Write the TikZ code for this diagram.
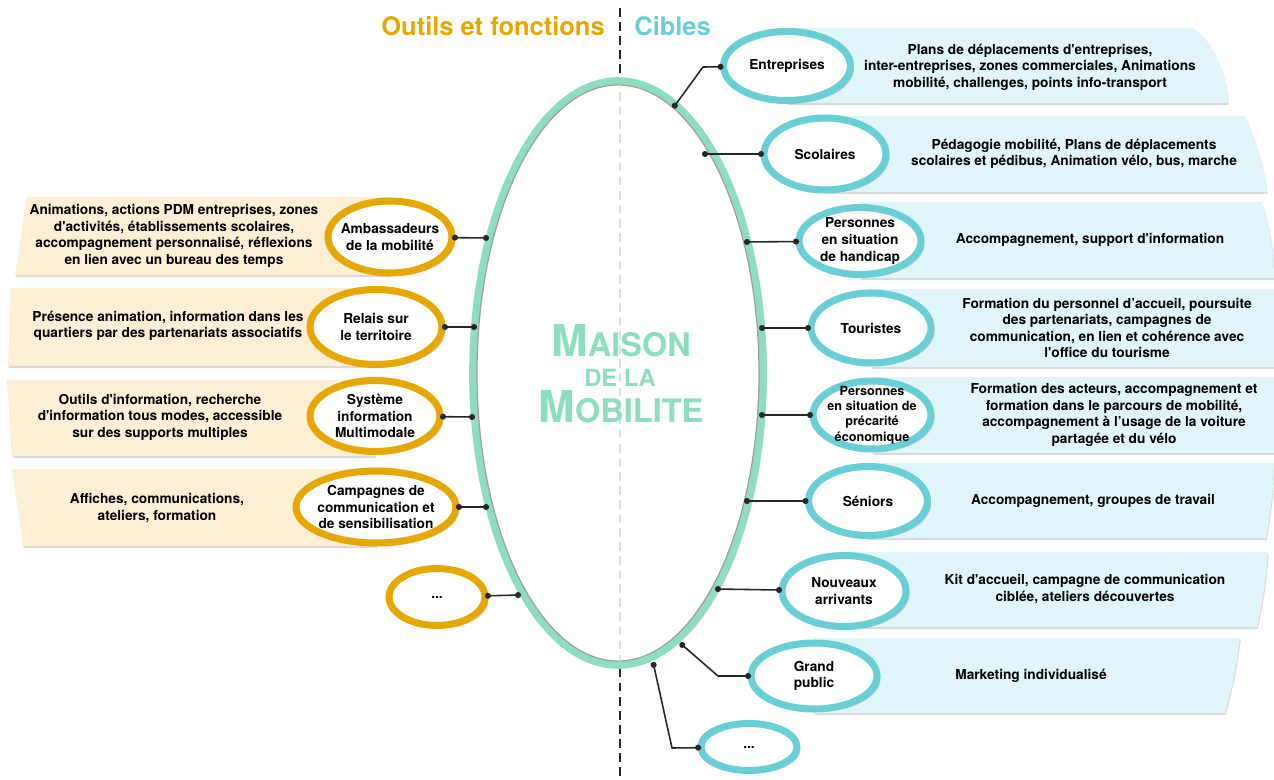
\documentclass[tikz,border=0pt]{standalone}
\usepackage{fontspec}
\setmainfont{TeX Gyre Heros}[Ligatures=TeXOff]
\usetikzlibrary{arrows.meta,shapes.geometric,shadows}
\definecolor{outilor}{RGB}{229,167,0}
\definecolor{cibleteal}{RGB}{106,206,215}
\definecolor{maisonvert}{RGB}{141,222,190}
\definecolor{outilfond}{RGB}{253,239,213}
\definecolor{ciblefond}{RGB}{224,245,250}
\newcommand{\txtfont}{\fontsize{7.8}{9.4}\selectfont\bfseries}
\tikzset{
  maison/.style={ellipse,draw=maisonvert,line width=4.4pt,fill=white,
    minimum width=5.8cm,minimum height=11.68cm,
    drop shadow={shadow xshift=2.2pt,shadow yshift=-1.2pt,opacity=.3}},
  outil/.style={ellipse,draw=outilor,line width=4pt,fill=white,outer sep=0pt,
    inner xsep=-12pt,inner ysep=-4pt,font=\txtfont,align=center,
    drop shadow={shadow xshift=2pt,shadow yshift=-1.6pt,opacity=.35}},
  cible/.style={outil,draw=cibleteal},
  outpanel/.style={fill=outilfond,drop shadow={shadow xshift=0.4pt,shadow yshift=-1.2pt,opacity=.3}},
  cibpanel/.style={fill=ciblefond,drop shadow={shadow xshift=0.4pt,shadow yshift=-1.2pt,opacity=.3}},
  paneltext/.style={font=\txtfont,align=center,inner sep=0pt},
  lien/.style={{Circle[length=3.4pt]}-{Circle[length=3.4pt]},line width=0.9pt,black!85},
  separe/.style={dash pattern=on 5pt off 3pt,line width=0.7pt},
  titre/.style={font=\fontsize{14.5}{14.5}\selectfont\bfseries,inner sep=0pt},
  titrecentre/.style={font=\fontsize{18.5}{18.5}\selectfont\bfseries,text=maisonvert,inner sep=0pt}
}

\begin{document}
\begin{tikzpicture}[x=0.02cm,y=-0.02cm]
  \useasboundingbox (0,0) rectangle (1274,780);

  \coordinate (haut) at (620,8);
  \coordinate (bas) at (620,780);
  \draw[separe,black!85] (haut) -- (bas);

  \node[maison] (maison) at (618,373) {};
  \draw[gray!75,line width=0.7pt] (maison.center) ellipse [x radius=141,y radius=288];
  \begin{scope}
    \clip (maison.center) ellipse [x radius=141,y radius=288];
    \draw[separe,gray!25] (haut) -- (bas);
  \end{scope}

  \node[titre,text=outilor,anchor=base east] (tOutils) at (605,36) {Outils et fonctions};
  \node[titre,text=cibleteal,anchor=base west] (tCibles) at (634,36) {Cibles};

  \node[titrecentre,anchor=base] (maisonA) at (621,357) {{\fontsize{25}{25}\selectfont M}AISON};
  \node[titrecentre,anchor=base,font=\fontsize{13.5}{13.5}\selectfont\bfseries] (maisonB) at (620,386) {DE LA};
  \node[titrecentre,anchor=base] (maisonC) at (621,422) {{\fontsize{25}{25}\selectfont M}OBILITE};

  % panneaux outils
  \fill[outpanel] (27,197) -- (390,197) -- (390,275) -- (15,275) -- cycle;
  \fill[outpanel] (11,288) -- (376,288) -- (376,366) -- (8,366) -- cycle;
  \fill[outpanel] (7,380) -- (375,380) -- (375,456) -- (12,456) -- cycle;
  \fill[outpanel] (12,469) -- (376,469) -- (376,546) -- (23,546) -- cycle;

  % panneaux cibles
  \fill[cibpanel] (787,28) -- (1192,28) .. controls (1215,40) and (1228,80) .. (1228,103) -- (787,103) -- cycle;
  \fill[cibpanel] (825,116) -- (1245,116) to[bend left=8] (1267,192) -- (825,192) -- cycle;
  \fill[cibpanel] (860,202) -- (1262,202) to[bend left=8] (1274,278) -- (860,278) -- cycle;
  \fill[cibpanel] (871,289) -- (1274,289) -- (1274,367) -- (871,367) -- cycle;
  \fill[cibpanel] (872,377) -- (1274,377) -- (1274,453) -- (872,453) -- cycle;
  \fill[cibpanel] (868,463) -- (1274,463) to[bend left=4] (1266,538) -- (868,538) -- cycle;
  \fill[cibpanel] (844,552) -- (1268,552) to[bend left=4] (1257,627) -- (844,627) -- cycle;
  \fill[cibpanel] (814,638) -- (1240,638) to[bend left=4] (1225,713) -- (814,713) -- cycle;

  \node[paneltext] (pAmb) at (174,236) {Animations, actions PDM entreprises, zones\\d'activités, établissements scolaires,\\accompagnement personnalisé, réflexions\\en lien avec un bureau des temps};
  \node[paneltext] (pRel) at (168,326) {Présence animation, information dans les\\quartiers par des partenariats associatifs};
  \node[paneltext] (pSys) at (160,417) {Outils d'information, recherche\\d'information tous modes, accessible\\sur des supports multiples};
  \node[paneltext] (pCam) at (157,508) {Affiches, communications,\\ateliers, formation};

  \node[paneltext] (pEnt) at (1030,67) {Plans de déplacements d'entreprises,\\inter-entreprises, zones commerciales, Animations\\mobilité, challenges, points info-transport};
  \node[paneltext] (pSco) at (1074,154) {Pédagogie mobilité, Plans de déplacements\\scolaires et pédibus, Animation vélo, bus, marche};
  \node[paneltext] (pHan) at (1090,240) {Accompagnement, support d'information};
  \node[paneltext] (pTou) at (1107,328) {Formation du personnel d’accueil, poursuite\\des partenariats, campagnes de\\communication, en lien et cohérence avec\\l'office du tourisme};
  \node[paneltext] (pPre) at (1114,415) {Formation des acteurs, accompagnement et\\formation dans le parcours de mobilité,\\accompagnement à l’usage de la voiture\\partagée et du vélo};
  \node[paneltext] (pSen) at (1093,501) {Accompagnement, groupes de travail};
  \node[paneltext] (pNou) at (1085,589) {Kit d'accueil, campagne de communication\\ciblée, ateliers découvertes};
  \node[paneltext] (pGra) at (1031,676) {Marketing individualisé};

  \node[outil,minimum width=2.48cm,minimum height=1.44cm] (amb) at (390,237) {Ambassadeurs\\de la mobilité};
  \node[outil,minimum width=2.64cm,minimum height=1.5cm] (rel) at (376,327) {Relais sur\\le territoire};
  \node[outil,minimum width=2.6cm,minimum height=1.42cm] (sys) at (375,416) {Système\\information\\Multimodale};
  \node[outil,minimum width=3.2cm,minimum height=1.44cm] (cam) at (376,507) {Campagnes de\\communication et\\de sensibilisation};
  \node[outil,minimum width=1.92cm,minimum height=1.14cm] (odots) at (437,597) {...};

  \node[cible,minimum width=2.54cm,minimum height=1.38cm] (ent) at (787,66) {Entreprises};
  \node[cible,minimum width=2.44cm,minimum height=1.44cm] (sco) at (825,154) {Scolaires};
  \node[cible,minimum width=2.44cm,minimum height=1.34cm] (han) at (860,241) {Personnes\\en situation\\de handicap};
  \node[cible,minimum width=2.4cm,minimum height=1.4cm] (tou) at (871,328) {Touristes};
  \node[cible,minimum width=2.36cm,minimum height=1.36cm,font=\fontsize{7.2}{8.8}\selectfont\bfseries] (pre) at (872,415) {Personnes\\en situation de\\précarité\\économique};
  \node[cible,minimum width=2.38cm,minimum height=1.38cm] (sen) at (868,501) {Séniors};
  \node[cible,minimum width=2.48cm,minimum height=1.42cm] (nou) at (844,591) {Nouveaux\\arrivants};
  \node[cible,minimum width=2.52cm,minimum height=1.32cm] (gra) at (814,676) {Grand\\public};
  \node[cible,minimum width=1.92cm,minimum height=0.94cm] (cdots) at (749,747) {...};

  \coordinate (mAmb) at (489,238);
  \coordinate (mRel) at (477,327);
  \coordinate (mSys) at (475,417);
  \coordinate (mCam) at (489,507);
  \coordinate (mDots) at (521,595);
  \coordinate (mEnt) at (673,108);
  \coordinate (kEnt) at (703,67);
  \coordinate (mSco) at (702,154);
  \coordinate (mHan) at (744,242);
  \coordinate (mTou) at (759,328);
  \coordinate (mPre) at (759,415);
  \coordinate (mSen) at (744,501);
  \coordinate (mNou) at (715,589);
  \coordinate (mGra) at (680,643);
  \coordinate (kGra) at (718,676);
  \coordinate (mCdots) at (653,662);
  \coordinate (kCdots) at (672,748);

  \draw[lien] (amb) -- (mAmb);
  \draw[lien] (rel) -- (mRel);
  \draw[lien] (sys) -- (mSys);
  \draw[lien] (cam) -- (mCam);
  \draw[lien] (odots) -- (mDots);
  \draw[lien] (mEnt) -- (kEnt) -- (ent);
  \draw[lien] (mSco) -- (sco);
  \draw[lien] (mHan) -- (han);
  \draw[lien] (mTou) -- (tou);
  \draw[lien] (mPre) -- (pre);
  \draw[lien] (mSen) -- (sen);
  \draw[lien] (mNou) -- (nou);
  \draw[lien] (mGra) -- (kGra) -- (gra);
  \draw[lien] (mCdots) -- (kCdots) -- (cdots);
\end{tikzpicture}
\end{document}
